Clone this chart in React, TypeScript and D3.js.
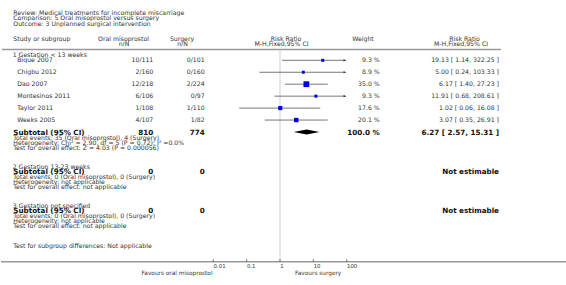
import React from "react";
import * as d3 from "d3";

const W = 566;
const H = 285;

const titleLines = [
  "Review:  Medical treatments for incomplete miscarriage",
  "Comparison:  5 Oral misoprostol versus surgery",
  "Outcome:  3 Unplanned surgical intervention",
];

const studies = ["Bique 2007", "Chigbu 2012", "Dao 2007", "Montesinos 2011", "Taylor 2011", "Weeks 2005"];
const oralNN = ["10/111", "2/160", "12/218", "6/106", "1/108", "4/107"];
const surgNN = ["0/101", "0/160", "2/224", "0/97", "1/110", "1/82"];
const weights = [9.3, 8.9, 35.0, 9.3, 17.6, 20.1];
const rr = [19.13, 5.0, 6.17, 11.91, 1.02, 3.07];
const lo = [1.14, 0.24, 1.4, 0.68, 0.06, 0.35];
const hi = [322.25, 103.33, 27.23, 208.61, 16.08, 26.91];

const subtotalRR = 6.27;
const subtotalLo = 2.57;
const subtotalHi = 15.31;
const subtotalN = ["810", "774"];

const axisTicks = [0.01, 0.1, 1, 10, 100];
const axisTickLabels = ["0.01", "0.1", "1", "10", "100"];

const group1Notes = [
  "Total events: 35 (Oral misoprostol), 4 (Surgery)",
  "Heterogeneity: Chi\u00b2 = 2.90, df = 5 (P = 0.72); I\u00b2 =0.0%",
  "Test for overall effect: Z = 4.03 (P = 0.000056)",
];
const emptyNotes = [
  "Total events: 0 (Oral misoprostol), 0 (Surgery)",
  "Heterogeneity: not applicable",
  "Test for overall effect: not applicable",
];

const FONT = "'DejaVu Sans', Verdana, sans-serif";
const FS = 6.2;
const FSB = 7.2;
const TXT = "#333";

const fmt2 = (v: number) => v.toFixed(2);

export default function App() {
  const x = d3.scaleLog().domain([0.01, 100]).range([213.3, 346.7]);
  const size = d3.scaleSqrt().domain([0, 35]).range([0, 5.8]);
  const rowY = (i: number) => 60.3 + i * 11.95;
  const xMaxArrow = 345;

  const t = (
    xx: number,
    yy: number,
    s: string,
    opts: { anchor?: string; bold?: boolean; size?: number; fill?: string } = {}
  ) => (
    <text
      x={xx}
      y={yy}
      dy="0.35em"
      textAnchor={opts.anchor || "start"}
      fontWeight={opts.bold ? "bold" : "normal"}
      fontSize={opts.size || (opts.bold ? FSB : FS)}
      fill={opts.fill || (opts.bold ? "#111" : TXT)}
    >
      {s}
    </text>
  );

  const groups = [
    { head: "2 Gestation 13-23 weeks", y0: 166.5 },
    { head: "3 Gestation not specified", y0: 205.5 },
  ];

  return (
    <svg
      width={W}
      height={H}
      style={{ position: "absolute", left: 0, top: 0, background: "#fff" }}
      fontFamily={FONT}
    >
      {titleLines.map((s, i) => (
        <g key={"tl" + i}>{t(13.3, 12.6 + i * 5.6, s)}</g>
      ))}

      {/* column headers */}
      {t(13.3, 39.3, "Study or subgroup")}
      {t(123.5, 39.3, "Oral misoprostol", { anchor: "middle" })}
      {t(124, 43.6, "n/N", { anchor: "middle" })}
      {t(182, 39.3, "Surgery", { anchor: "middle" })}
      {t(182.5, 43.6, "n/N", { anchor: "middle" })}
      {t(286, 39.3, "Risk Ratio", { anchor: "middle" })}
      {t(281.5, 43.6, "M-H,Fixed,95% CI", { anchor: "middle" })}
      {t(363, 39.3, "Weight", { anchor: "middle" })}
      {t(464.5, 39.3, "Risk Ratio", { anchor: "middle" })}
      {t(461, 43.6, "M-H,Fixed,95% CI", { anchor: "middle" })}
      <line x1={2} x2={501} y1={49.5} y2={49.5} stroke="#999" strokeWidth={1.3} />

      {/* reference line at 1 */}
      <line x1={x(1)} x2={x(1)} y1={50} y2={261} stroke="#ddd" strokeWidth={1.4} />

      {/* group 1 */}
      {t(12.7, 54.6, "1 Gestation < 13 weeks")}
      {studies.map((s, i) => {
        const y = rowY(i);
        const x1 = x(lo[i]);
        const clipped = hi[i] > 100;
        const x2 = clipped ? xMaxArrow : x(hi[i]);
        const sz = size(weights[i]);
        return (
          <g key={s}>
            {t(17.3, y, s)}
            {t(153.3, y, oralNN[i], { anchor: "end" })}
            {t(204.7, y, surgNN[i], { anchor: "end" })}
            <line x1={x1} x2={x2} y1={y} y2={y} stroke="#555" strokeWidth={0.8} />
            {clipped && (
              <path
                d={`M${x2 + 1.5},${y} L${x2 - 1.5},${y - 1.1} L${x2 - 1.5},${y + 1.1} Z`}
                fill="#333"
              />
            )}
            <rect
              x={x(rr[i]) - sz / 2}
              y={y - sz / 2}
              width={sz}
              height={sz}
              fill="#0000ee"
            />
            {t(379.7, y, weights[i].toFixed(1) + " %", { anchor: "end" })}
            {t(499, y, `${fmt2(rr[i])} [ ${fmt2(lo[i])}, ${fmt2(hi[i])} ]`, { anchor: "end" })}
          </g>
        );
      })}
      {(() => {
        const y = 132;
        return (
          <g>
            {t(13.3, y, "Subtotal (95% CI)", { bold: true })}
            {t(153.3, y, subtotalN[0], { anchor: "end", bold: true })}
            {t(204.7, y, subtotalN[1], { anchor: "end", bold: true })}
            <path
              d={`M${x(subtotalLo)},${y} L${x(subtotalRR)},${y - 2.6} L${x(subtotalHi)},${y} L${x(subtotalRR)},${y + 2.6} Z`}
              fill="#000"
            />
            {t(379.7, y, "100.0 %", { anchor: "end", bold: true })}
            {t(499, y, `${fmt2(subtotalRR)} [ ${fmt2(subtotalLo)}, ${fmt2(subtotalHi)} ]`, {
              anchor: "end",
              bold: true,
            })}
          </g>
        );
      })()}
      {group1Notes.map((s, i) => (
        <g key={"g1n" + i}>{t(13.3, 137.8 + i * 4.8, s)}</g>
      ))}

      {groups.map((g) => (
        <g key={g.head}>
          {t(12.7, g.y0, g.head)}
          {t(13.3, g.y0 + 5.3, "Subtotal (95% CI)", { bold: true })}
          {t(153.3, g.y0 + 5.3, "0", { anchor: "end", bold: true })}
          {t(204.7, g.y0 + 5.3, "0", { anchor: "end", bold: true })}
          {t(499, g.y0 + 5.3, "Not estimable", { anchor: "end", bold: true })}
          {emptyNotes.map((s, i) => (
            <g key={s}>{t(13.3, g.y0 + 10.6 + i * 4.9, s)}</g>
          ))}
        </g>
      ))}

      {t(13.3, 245.5, "Test for subgroup differences: Not applicable")}

      {/* axis */}
      <line x1={1} x2={W} y1={261.7} y2={261.7} stroke="#999" strokeWidth={1.4} />
      {axisTicks.map((v, i) => (
        <g key={"tk" + i}>
          <line x1={x(v)} x2={x(v)} y1={259.3} y2={261.7} stroke="#333" strokeWidth={0.7} />
          {t(x(v) + 0.3, 265.8, axisTickLabels[i], { size: 5.4 })}
        </g>
      ))}
      {t(212.5, 272.6, "Favours oral misoprostol", { anchor: "end", size: 5.8 })}
      {t(295, 272.6, "Favours surgery", { size: 5.8 })}
    </svg>
  );
}
